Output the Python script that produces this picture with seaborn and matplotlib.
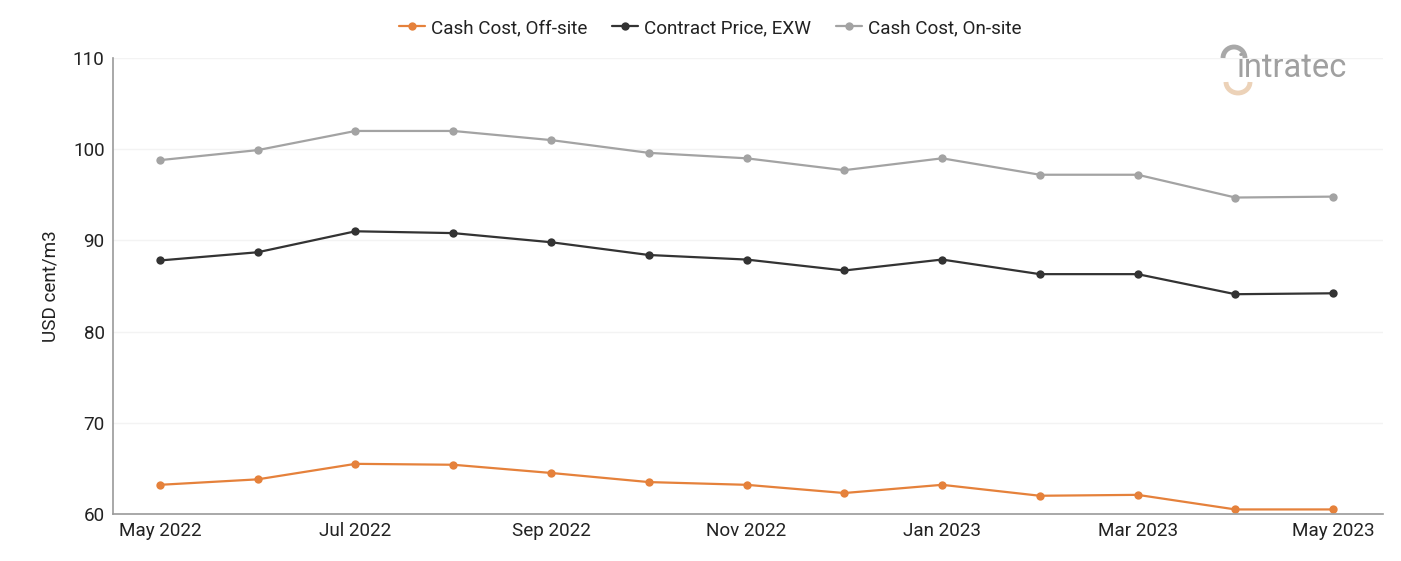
import matplotlib
matplotlib.use("Agg")
import matplotlib.pyplot as plt
import seaborn as sns
import pandas as pd
from matplotlib.patches import Arc

months = ["May 2022", "Jun 2022", "Jul 2022", "Aug 2022", "Sep 2022", "Oct 2022",
          "Nov 2022", "Dec 2022", "Jan 2023", "Feb 2023", "Mar 2023", "Apr 2023", "May 2023"]
cash_cost_offsite = [63.2, 63.8, 65.5, 65.4, 64.5, 63.5, 63.2, 62.3, 63.2, 62.0, 62.1, 60.5, 60.5]
contract_price_exw = [87.8, 88.7, 91.0, 90.8, 89.8, 88.4, 87.9, 86.7, 87.9, 86.3, 86.3, 84.1, 84.2]
cash_cost_onsite = [98.8, 99.9, 102.0, 102.0, 101.0, 99.6, 99.0, 97.7, 99.0, 97.2, 97.2, 94.7, 94.8]

series_names = ["Cash Cost, Off-site", "Contract Price, EXW", "Cash Cost, On-site"]
colors = ["#E5813B", "#333333", "#A3A3A3"]
tick_labels = ["May 2022", "Jul 2022", "Sep 2022", "Nov 2022", "Jan 2023", "Mar 2023", "May 2023"]

rows = []
for name, vals in zip(series_names, [cash_cost_offsite, contract_price_exw, cash_cost_onsite]):
    for i, (m, v) in enumerate(zip(months, vals)):
        rows.append({"idx": i, "month": m, "series": name, "value": v})
df = pd.DataFrame(rows)

sns.set_theme(style="white")
plt.rcParams["font.family"] = ["Roboto", "DejaVu Sans"]

fig = plt.figure(figsize=(14.01, 5.61), dpi=100)
ax = fig.add_axes([113 / 1401, 1 - 514 / 561, (1383 - 113) / 1401, (514 - 58) / 561])

sns.lineplot(data=df, x="idx", y="value", hue="series", hue_order=series_names,
             palette=colors, marker="o", markersize=6, markeredgewidth=0,
             linewidth=1.6, ax=ax, legend=True)

ax.set_xlim(-0.48, 12.51)
ax.set_ylim(60, 110)
ax.set_yticks([60, 70, 80, 90, 100, 110])
ax.set_xticks([months.index(t) for t in tick_labels])
ax.set_xticklabels(tick_labels)
ax.tick_params(axis="both", labelsize=13.6, colors="#222222", length=0, pad=6)
ax.set_xlabel("")
ax.set_ylabel("USD cent/m3", fontsize=13.6, color="#222222", labelpad=10)
ax.grid(axis="y", color="#f3f3f3", linewidth=1)
for s in ["top", "right"]:
    ax.spines[s].set_visible(False)
for s in ["left", "bottom"]:
    ax.spines[s].set_color("#9a9a9a")
    ax.spines[s].set_linewidth(1.2)

leg = ax.legend(loc="center", bbox_to_anchor=((710 - 113) / 1270, 1 + 30 / 456), ncol=3,
                frameon=False, fontsize=13.6, handlelength=1.4, handletextpad=0.3,
                columnspacing=1.3)
for t in leg.get_texts():
    t.set_color("#222222")

# logo
fig.text(1237 / 1401, 1 - 68 / 561, "intratec", fontsize=23.5, color="#a0a0a0",
         ha="left", va="center")
fig.patches.append(Arc((1234 / 1401, 1 - 58 / 561), 22 / 1401, 22 / 561, theta1=0, theta2=180,
                       transform=fig.transFigure, color="#a8a8a8", linewidth=3.5))
fig.patches.append(Arc((1238 / 1401, 1 - 82 / 561), 24 / 1401, 22 / 561, theta1=180, theta2=360,
                       transform=fig.transFigure, color="#ecd2b8", linewidth=3.5))

fig.savefig("out.png", dpi=100)
